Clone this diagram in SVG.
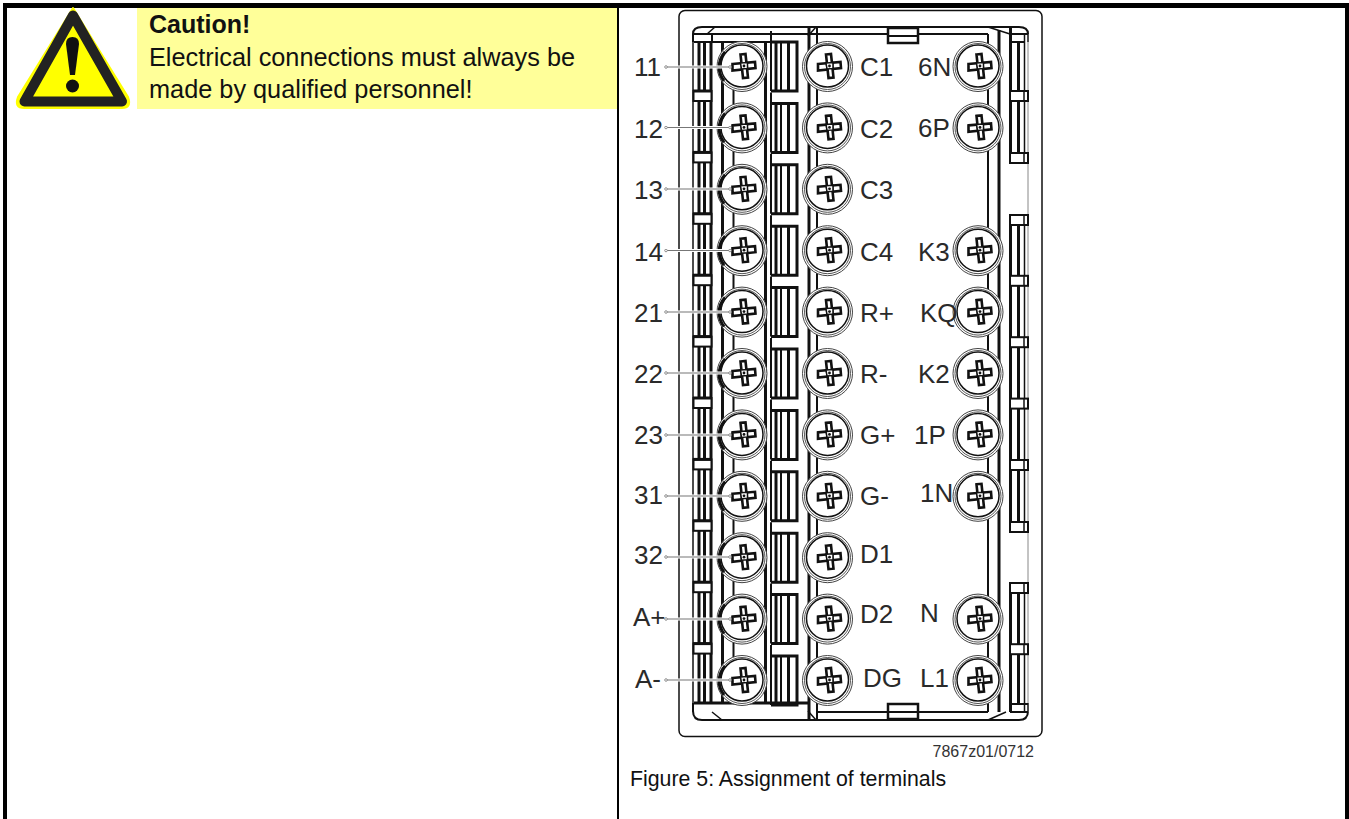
<svg xmlns="http://www.w3.org/2000/svg" width="1349" height="819" viewBox="0 0 1349 819">
<style>
text{font-family:"Liberation Sans",Arial,sans-serif;fill:#111}
.lab{font-size:26px;fill:#2a2a2a}
.body{font-size:25.3px}
.cap{font-size:25px;font-weight:bold}
.l{fill:none;stroke:#111;stroke-width:1.5}
.t{fill:none;stroke:#111;stroke-width:3}
.m{fill:none;stroke:#111;stroke-width:2}
.halo{stroke:#fff;stroke-width:3;fill:none}
.lead{stroke:#777;stroke-width:1.2;fill:none;marker-start:url(#dot);marker-end:url(#dot)}
</style>
<defs>
<marker id="dot" markerUnits="userSpaceOnUse" markerWidth="4" markerHeight="4" refX="2" refY="2"><circle cx="2" cy="2" r="1.300" fill="#fff" stroke="#777" stroke-width="0.800"/></marker>
<g id="cross">
<path d="M-11,-2 L11.500,-4 L12,2 L-11,4.500 Z" fill="#fff" stroke="#111" stroke-width="2.600"/>
<path d="M-3,-11.500 L2,-12 L4.500,11.500 L-0.500,12 Z" fill="#fff" stroke="#111" stroke-width="2.600"/>
<path d="M-3,-3 L4,-3.500 L4,2.500 L-2,3 Z" fill="#fff" stroke="#111" stroke-width="1.500"/>
<circle cx="0.500" cy="0" r="1.400" fill="#111"/>
</g>
<g id="screw">
<circle cy="0.500" r="25" fill="#fff" stroke="#444" stroke-width="1"/>
<circle cy="0.500" r="23" fill="#fff" stroke="#555" stroke-width="1"/>
<circle r="21" fill="#fff" stroke="#111" stroke-width="1.500"/>
<use href="#cross" x="1.500"/>
</g>
<g id="screwL">
<use href="#screw"/>
<path d="M-17,-14 A22.500,22.500 0 0 0 -18,15" fill="none" stroke="#111" stroke-width="3"/>
</g>
<g id="tabL">
<rect x="693.500" y="0" width="18" height="10" fill="#fff" stroke="#111" stroke-width="2"/>
<path d="M693,0 H712" class="t"/>
</g>
<g id="tabR">
<rect x="1010" y="0" width="18" height="10" fill="#fff" stroke="#111" stroke-width="2"/>
<path d="M1024,0 V10" class="l"/>
</g>
<g id="strip">
<path d="M771,-11 V49" class="m"/>
<path d="M771,0 H797 V49 H771" class="t"/>
<path d="M776,0 V49" class="t"/>
<path d="M781,0 V49" class="m"/>
<path d="M788.500,0 V49" class="t"/>
</g>
</defs>
<g id="page">
<rect x="137" y="8" width="480" height="101" fill="#ffff99"/>
<path d="M3,3 H1349 V8 H7 V819 H3 Z" fill="#000"/>
<rect x="617" y="8" width="2" height="811" fill="#000"/>
<rect x="1345" y="8" width="4" height="811" fill="#000"/>
</g>
<g id="warning">
<path d="M73,8 L128,97 Q132,108 122,108 H24 Q14,108 18,97 Z" fill="#ffff00" stroke="#ffff00" stroke-width="2" stroke-linejoin="round"/>
<path d="M73,15.500 L122,101.500 H24.500 Z" fill="#ffff00" stroke="#222" stroke-width="10" stroke-linejoin="round"/>
<path d="M66,44 Q66,37 72.500,37 Q79,37 79,44 L75,75 H70 Z" fill="#111"/>
<circle cx="72.500" cy="86" r="6.500" fill="#111"/>
</g>
<g id="caution">
<text x="149" y="33" class="cap">Caution!</text>
<text x="149" y="66" class="body">Electrical connections must always be</text>
<text x="149" y="98" class="body">made by qualified personnel!</text>
</g>
<g id="housing">
<rect x="679" y="10.500" width="363" height="726" rx="6" fill="#fff" stroke="#111" stroke-width="1.500"/>
<path d="M693,42 V34 Q693,27 702,27 H1019 Q1028,27 1028,34 V42" class="m"/>
<path d="M693,703 V711 Q693,720 702,720 H1019 Q1028,720 1028,711 V703" class="m"/>
<path d="M693,34 V712" class="l"/>
<path d="M694,34 H988 M817,712 H988 M694,42 H797" class="m"/>
<path d="M694,703 H808" class="t"/>
<path d="M712,34 V42 M1010,42 H1024" class="m"/>
<path d="M699,42 V703 M704.500,42 V703 M711,42 V703" class="t"/>
<path d="M722.500,42 V703" class="t"/>
<path d="M733.500,42 V703" class="m"/>
<path d="M765.500,42 V703" class="t"/>
<path d="M809,27 V720" class="t"/>
<path d="M817,27 V720" class="m"/>
<path d="M988,34 V712" class="m"/>
<path d="M999,30 V712" class="t"/>
<path d="M1010.500,27 V162 M1010.500,215 V532 M1010.500,583 V712" class="t"/>
<path d="M1018.500,42 V91 M1018.500,102 V152 M1018.500,225 V523 M1018.500,592 V703" class="t"/>
<path d="M1024.500,34 V162 M1024.500,215 V532 M1024.500,583 V712" class="l"/>
<path d="M1028,34 V712" stroke="#888" stroke-width="1" fill="none"/>
<path d="M1010,34 H1028 M1010,704 H1028 M1010,712 H1028" class="m"/>
<path d="M715,27 L707,34 M722,720 L712,712 M816,27 L808,36 M816,720 L808,711 M988,27 L1010,34 M988,720 L1006,712" class="l"/>
<rect x="888" y="28" width="30" height="15" fill="#fff" stroke="#111" stroke-width="2.500"/>
<path d="M888,36 H918" class="m"/>
<rect x="888" y="704" width="30" height="15" fill="#fff" stroke="#111" stroke-width="2.500"/>
<path d="M888,712 H918" class="m"/>
<use href="#strip" y="42"/><use href="#strip" y="103.400"/><use href="#strip" y="164.800"/><use href="#strip" y="226.200"/><use href="#strip" y="287.600"/><use href="#strip" y="349"/><use href="#strip" y="410.400"/><use href="#strip" y="471.800"/><use href="#strip" y="533.200"/><use href="#strip" y="594.600"/><use href="#strip" y="656"/>
<use href="#tabL" y="91"/><use href="#tabL" y="152.400"/><use href="#tabL" y="213.800"/><use href="#tabL" y="275.200"/><use href="#tabL" y="336.600"/><use href="#tabL" y="398"/><use href="#tabL" y="459.400"/><use href="#tabL" y="520.800"/><use href="#tabL" y="582.200"/><use href="#tabL" y="643.600"/>
<use href="#tabR" y="91"/><use href="#tabR" y="153"/><use href="#tabR" y="215"/><use href="#tabR" y="275.800"/><use href="#tabR" y="337.200"/><use href="#tabR" y="398.600"/><use href="#tabR" y="460"/><use href="#tabR" y="522"/><use href="#tabR" y="583"/><use href="#tabR" y="644.200"/>
</g>
<g id="screws-left"><use href="#screwL" x="742" y="66"/><use href="#screwL" x="742" y="127.400"/><use href="#screwL" x="742" y="188.800"/><use href="#screwL" x="742" y="250.200"/><use href="#screwL" x="742" y="311.600"/><use href="#screwL" x="742" y="373"/><use href="#screwL" x="742" y="434.400"/><use href="#screwL" x="742" y="495.800"/><use href="#screwL" x="742" y="557.200"/><use href="#screwL" x="742" y="618.600"/><use href="#screwL" x="742" y="680"/></g>
<g id="screws-mid"><use href="#screw" x="827.500" y="66"/><use href="#screw" x="827.500" y="127.400"/><use href="#screw" x="827.500" y="188.800"/><use href="#screw" x="827.500" y="250.200"/><use href="#screw" x="827.500" y="311.600"/><use href="#screw" x="827.500" y="373"/><use href="#screw" x="827.500" y="434.400"/><use href="#screw" x="827.500" y="495.800"/><use href="#screw" x="827.500" y="557.200"/><use href="#screw" x="827.500" y="618.600"/><use href="#screw" x="827.500" y="680"/></g>
<g id="screws-right"><use href="#screw" x="978" y="66"/><use href="#screw" x="978" y="127.400"/><use href="#screw" x="978" y="250.200"/><use href="#screw" x="978" y="311.600"/><use href="#screw" x="978" y="373"/><use href="#screw" x="978" y="434.400"/><use href="#screw" x="978" y="495.800"/><use href="#screw" x="978" y="618.600"/><use href="#screw" x="978" y="680"/></g>
<g id="connectors">
<path class="halo" d="M666,67 H730 M666,127.500 H730 M666,189 H730 M666,250.500 H730 M666,312 H730 M666,373 H730 M666,435 H730 M666,496 H730 M666,557 H730 M666,619 H730 M666,680 H730"/>
<path class="lead" d="M666,67 H730"/><path class="lead" d="M666,127.500 H730"/><path class="lead" d="M666,189 H730"/><path class="lead" d="M666,250.500 H730"/><path class="lead" d="M666,312 H730"/><path class="lead" d="M666,373 H730"/><path class="lead" d="M666,435 H730"/><path class="lead" d="M666,496 H730"/><path class="lead" d="M666,557 H730"/><path class="lead" d="M666,619 H730"/><path class="lead" d="M666,680 H730"/>
</g>
<g id="labels">
<text class="lab" x="634" y="76">11</text><text class="lab" x="634" y="138">12</text><text class="lab" x="634" y="199">13</text><text class="lab" x="634" y="261">14</text><text class="lab" x="634" y="322">21</text><text class="lab" x="634" y="383">22</text><text class="lab" x="634" y="444">23</text><text class="lab" x="634" y="504">31</text><text class="lab" x="634" y="564">32</text><text class="lab" x="633" y="626">A+</text><text class="lab" x="635" y="688">A-</text>
<text class="lab" x="860" y="76">C1</text><text class="lab" x="860" y="138">C2</text><text class="lab" x="860" y="199">C3</text><text class="lab" x="860" y="261">C4</text><text class="lab" x="860" y="322">R+</text><text class="lab" x="860" y="383">R-</text><text class="lab" x="860" y="444">G+</text><text class="lab" x="860" y="505">G-</text><text class="lab" x="860" y="563">D1</text><text class="lab" x="860" y="623">D2</text><text class="lab" x="863" y="687">DG</text>
<text class="lab" x="918" y="76">6N</text><text class="lab" x="918" y="137">6P</text><text class="lab" x="918" y="261">K3</text><text class="lab" x="920" y="322">KQ</text><text class="lab" x="918" y="383">K2</text><text class="lab" x="914" y="444">1P</text><text class="lab" x="920" y="502">1N</text><text class="lab" x="920" y="622">N</text><text class="lab" x="920" y="687">L1</text>
</g>
<text id="ref" x="1034" y="757" text-anchor="end" font-size="16" style="fill:#333">7867z01/0712</text>
<text id="figcap" x="630" y="786" font-size="21.300">Figure 5: Assignment of terminals</text>
</svg>
